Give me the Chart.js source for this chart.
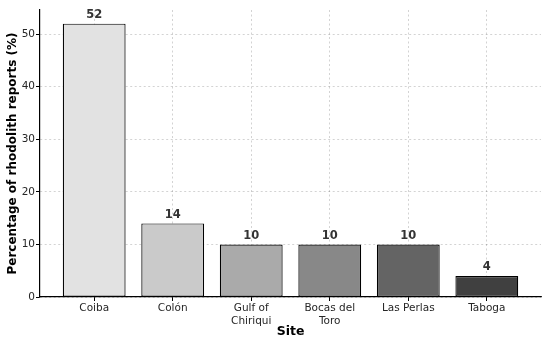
<!DOCTYPE html>
<html>
<head>
<meta charset="utf-8">
<script src="https://cdn.jsdelivr.net/npm/chart.js@4"></script>
<style>
  html, body { margin: 0; padding: 0; background: #ffffff; }
  #wrap { width: 550px; height: 341px; position: relative; }
</style>
</head>
<body>
<div id="wrap"><canvas id="c" width="550" height="341"></canvas></div>
<script>
const categories = ["Coiba", "Colón", ["Gulf of", "Chiriqui"], ["Bocas del", "Toro"], "Las Perlas", "Taboga"];
const percentages = [52, 14, 10, 10, 10, 4];
const barColors = ["#e2e2e2", "#cacaca", "#aaaaaa", "#888888", "#646464", "#404040"];
const yTicks = [0, 10, 20, 30, 40, 50];
const yTitle = "Percentage of rhodolith reports (%)";
const xTitle = "Site";

const FONT = "'DejaVu Sans', sans-serif";

const valueLabels = {
  id: 'valueLabels',
  afterDatasetsDraw(chart) {
    const ctx = chart.ctx;
    const meta = chart.getDatasetMeta(0);
    ctx.save();
    ctx.font = "bold 11.5px " + FONT;
    ctx.fillStyle = "#333333";
    ctx.textAlign = "center";
    ctx.textBaseline = "bottom";
    meta.data.forEach((bar, i) => {
      ctx.fillText(String(percentages[i]), bar.x, bar.y - 3);
    });
    ctx.restore();
  }
};

const gridStyle = {
  offset: false,
  color: "rgba(0,0,0,0.25)",
  lineWidth: 0.7,
  drawTicks: true,
  tickLength: 4,
  tickColor: "#000000",
  tickWidth: 1
};
const borderStyle = { display: true, color: "#000000", width: 1.2, dash: [2, 2.5] };

new Chart(document.getElementById('c'), {
  type: 'bar',
  data: {
    datasets: [{
      data: percentages.map((v, i) => ({ x: i, y: v })),
      backgroundColor: barColors,
      borderColor: "#000000",
      borderWidth: 1.2,
      borderSkipped: false,
      categoryPercentage: 1.0,
      barPercentage: 0.8
    }]
  },
  options: {
    responsive: false,
    animation: false,
    devicePixelRatio: 1,
    layout: { padding: { top: 10, right: 9, left: 0, bottom: 0 } },
    plugins: {
      legend: { display: false },
      tooltip: { enabled: false }
    },
    scales: {
      x: {
        type: 'linear',
        offset: false,
        min: -0.69,
        max: categories.length - 1 + 0.69,
        afterBuildTicks(scale) { scale.ticks = categories.map((_, i) => ({ value: i })); },
        grid: gridStyle,
        border: borderStyle,
        ticks: {
          font: { family: FONT, size: 10.5 },
          color: "#262626",
          padding: 1,
          maxRotation: 0,
          autoSkip: false,
          callback: (v) => categories[v]
        },
        title: {
          display: true,
          text: xTitle,
          font: { family: FONT, size: 12.5, weight: 'bold' },
          color: "#000000",
          padding: { top: 0, bottom: 2 }
        },
        afterFit(scale) { scale.height = 44; }
      },
      y: {
        min: 0,
        max: 54.6,
        afterBuildTicks(scale) { scale.ticks = yTicks.map(v => ({ value: v })); },
        grid: gridStyle,
        border: borderStyle,
        ticks: {
          font: { family: FONT, size: 10.5 },
          color: "#262626",
          padding: 1
        },
        title: {
          display: true,
          text: yTitle,
          font: { family: FONT, size: 12, weight: 'bold' },
          color: "#000000",
          padding: { top: 6, bottom: 0 }
        },
        afterFit(scale) { scale.width = 40; }
      }
    }
  },
  plugins: [valueLabels]
});
</script>
</body>
</html>
